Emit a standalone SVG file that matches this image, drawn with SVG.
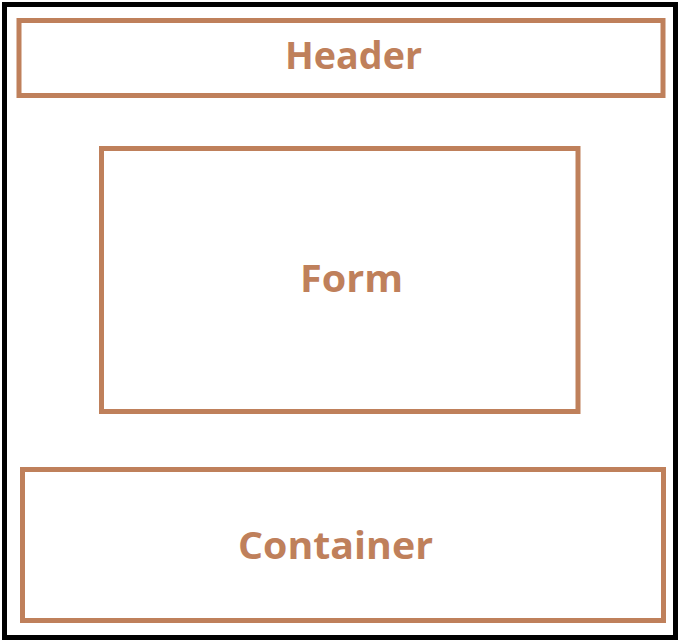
<svg xmlns="http://www.w3.org/2000/svg" width="684" height="642" viewBox="0 0 684 642">
<style>
.box{fill:none;stroke:#BF805B;stroke-width:5}
.lbl{font-family:"Open Sans","Noto Sans","Liberation Sans",sans-serif;font-weight:bold;font-size:37px;fill:#BF805B;text-anchor:middle}
</style>
<rect x="0" y="0" width="684" height="642" fill="#fff"/>
<g id="page"><rect x="4.5" y="4.5" width="671" height="633" fill="none" stroke="#000" stroke-width="5"/></g>
<g id="header"><rect class="box" x="19" y="20.5" width="644" height="75"/><text class="lbl" x="353.5" y="69" textLength="137" lengthAdjust="spacingAndGlyphs">Header</text></g>
<g id="form"><rect class="box" x="101.5" y="148.5" width="476.5" height="263"/><text class="lbl" x="351.5" y="292" textLength="103" lengthAdjust="spacingAndGlyphs">Form</text></g>
<g id="container"><rect class="box" x="22.5" y="469.5" width="641" height="151"/><text class="lbl" x="335.5" y="559" textLength="195" lengthAdjust="spacingAndGlyphs">Container</text></g>
<g id="connectors"></g>
</svg>
